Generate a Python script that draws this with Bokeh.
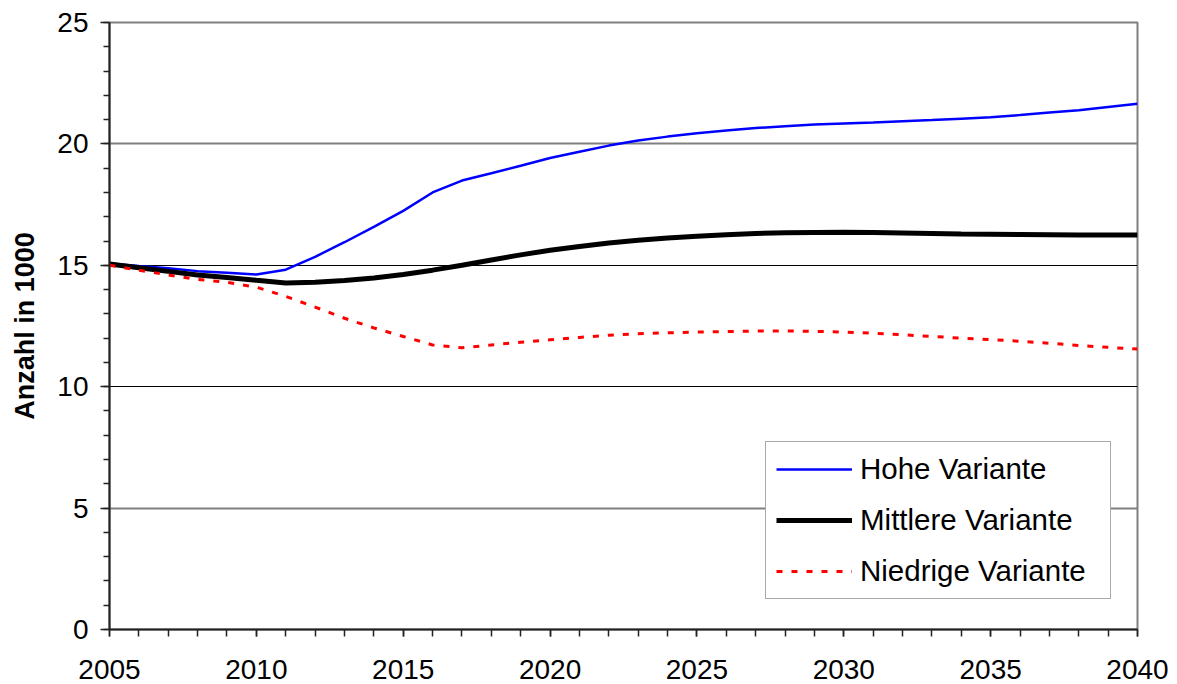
from bokeh.plotting import figure
from bokeh.models import FixedTicker, Range1d, Legend, LegendItem, Grid, ColumnDataSource
from bokeh.embed import file_html
from bokeh.resources import INLINE

years = list(range(2005, 2041))

hohe = [15.07, 14.97, 14.88, 14.76, 14.69, 14.62, 14.82, 15.35, 15.95, 16.58,
        17.24, 18.00, 18.49, 18.79, 19.10, 19.42, 19.68, 19.93, 20.14, 20.30,
        20.44, 20.55, 20.65, 20.73, 20.80, 20.84, 20.88, 20.93, 20.98, 21.04,
        21.10, 21.19, 21.29, 21.39, 21.52, 21.65]

mittlere = [15.05, 14.90, 14.75, 14.60, 14.50, 14.38, 14.27, 14.30, 14.37, 14.48,
            14.62, 14.80, 15.00, 15.22, 15.43, 15.62, 15.77, 15.92, 16.03, 16.12,
            16.20, 16.26, 16.31, 16.34, 16.35, 16.36, 16.35, 16.33, 16.31, 16.29,
            16.28, 16.27, 16.26, 16.25, 16.25, 16.25]

niedrige = [15.00, 14.80, 14.60, 14.42, 14.30, 14.10, 13.72, 13.28, 12.82, 12.42,
            12.07, 11.72, 11.60, 11.72, 11.83, 11.93, 12.03, 12.12, 12.18, 12.22,
            12.25, 12.27, 12.29, 12.30, 12.28, 12.25, 12.20, 12.14, 12.07, 12.00,
            11.94, 11.87, 11.79, 11.70, 11.62, 11.55]

labels = ["Hohe Variante", "Mittlere Variante", "Niedrige Variante"]
y_ticks = [0, 5, 10, 15, 20, 25]
x_ticks = [2005, 2010, 2015, 2020, 2025, 2030, 2035, 2040]

FONT = "Liberation Sans"

p = figure(width=1177, height=684, output_backend="svg", toolbar_location=None,
           x_range=Range1d(2005, 2040), y_range=Range1d(0, 25),
           min_border_left=109, min_border_right=40, min_border_top=22, min_border_bottom=55)

p.background_fill_color = "white"
p.border_fill_color = "white"
p.outline_line_color = "#808080"
p.outline_line_width = 2

# grids
p.xgrid.visible = False
p.ygrid.ticker = FixedTicker(ticks=[10, 15])
p.ygrid.grid_line_color = "black"
p.ygrid.grid_line_width = 1
g2 = Grid(dimension=1, ticker=FixedTicker(ticks=[5, 20]), grid_line_color="#808080", grid_line_width=2)
p.add_layout(g2)

src = ColumnDataSource(dict(x=years, h=hohe, m=mittlere, n=niedrige))
r_h = p.line("x", "h", source=src, line_color="#0000FF", line_width=2.5)
r_m = p.line("x", "m", source=src, line_color="black", line_width=5)
r_n = p.line("x", "n", source=src, line_color="#FF0000", line_width=3, line_dash="6 9")

# axes
for ax in (p.xaxis[0], p.yaxis[0]):
    ax.axis_line_color = "#222222"
    ax.axis_line_width = 2
    ax.major_tick_line_color = "#222222"
    ax.minor_tick_line_color = "#222222"
    ax.major_tick_line_width = 1.5
    ax.minor_tick_line_width = 1.5
    ax.major_label_text_font = FONT
    ax.major_label_text_font_size = "28px"
    ax.major_label_text_color = "black"

p.xaxis.ticker = FixedTicker(ticks=x_ticks, minor_ticks=years)
p.xaxis.major_tick_in = 0
p.xaxis.major_tick_out = 7
p.xaxis.minor_tick_in = 0
p.xaxis.minor_tick_out = 7
p.xaxis.major_label_standoff = 23

p.yaxis.ticker = FixedTicker(ticks=y_ticks, minor_ticks=list(range(0, 26)))
p.yaxis.major_tick_in = 0
p.yaxis.major_tick_out = 9
p.yaxis.minor_tick_in = 0
p.yaxis.minor_tick_out = 6
p.yaxis.major_label_standoff = 12
p.yaxis.axis_label = "Anzahl in 1000"
p.yaxis.axis_label_text_font = FONT
p.yaxis.axis_label_text_font_size = "27px"
p.yaxis.axis_label_text_font_style = "bold"
p.yaxis.axis_label_text_color = "black"
p.yaxis.axis_label_standoff = 14

legend = Legend(items=[LegendItem(label=labels[0], renderers=[r_h]),
                       LegendItem(label=labels[1], renderers=[r_m]),
                       LegendItem(label=labels[2], renderers=[r_n])],
                location=(656, 30))
legend.label_text_font = FONT
legend.label_text_font_size = "29.5px"
legend.label_text_color = "black"
legend.glyph_width = 76
legend.glyph_height = 28
legend.label_height = 28
legend.label_width = 240
legend.label_standoff = 8
legend.spacing = 17
legend.padding = 10
legend.margin = 0
legend.border_line_color = "#555555"
legend.border_line_width = 1
legend.background_fill_color = "white"
legend.background_fill_alpha = 1
p.add_layout(legend, "center")

open("out.html", "w").write(file_html(p, INLINE))
